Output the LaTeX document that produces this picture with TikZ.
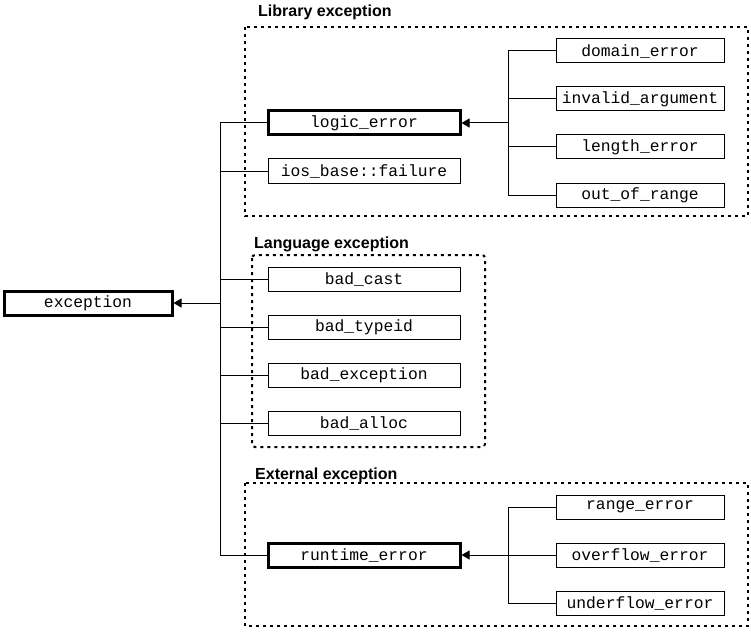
\documentclass[tikz,border=0pt]{standalone}
\usepackage{fontspec}
\setmainfont{Liberation Sans}
\setmonofont{Liberation Mono}
\usetikzlibrary{arrows.meta}
\begin{document}
\begin{tikzpicture}[x=1pt,y=-1pt,
  cls/.style={draw,line width=1pt,rectangle,minimum height=24pt,inner sep=0pt,
    font=\fontsize{16.3}{16}\selectfont\ttfamily},
  wide/.style={cls,minimum width=192pt},
  narrow/.style={cls,minimum width=168pt},
  base/.style={line width=3pt},
  link/.style={line width=1pt},
  inherit/.style={link,-{Triangle[length=8pt,width=9pt]}},
  group/.style={line width=2pt,dash pattern=on 3pt off 4pt},
  grouptitle/.style={anchor=base west,inner sep=0pt,
    font=\fontsize{16}{16}\selectfont\bfseries}]
\useasboundingbox (0,0) rectangle (751,631);

% root
\node[narrow,base] (exc) at (88,303) {exception};

% library exceptions
\node[wide,base] (logic) at (364,123) {logic\_error};
\node[wide] (ios) at (364,171) {ios\_base::failure};
\node[narrow] (dom) at (640,51) {domain\_error};
\node[narrow] (inv) at (640,99) {invalid\_argument};
\node[narrow] (len) at (640,147) {length\_error};
\node[narrow] (oor) at (640,195) {out\_of\_range};

% language exceptions
\node[wide] (cast) at (364,279) {bad\_cast};
\node[wide] (tid) at (364,327) {bad\_typeid};
\node[wide] (bexc) at (364,375) {bad\_exception};
\node[wide] (alloc) at (364,423) {bad\_alloc};

% external exceptions
\node[wide,base] (rt) at (364,555) {runtime\_error};
\node[narrow] (rng) at (640,507) {range\_error};
\node[narrow] (ovf) at (640,555) {overflow\_error};
\node[narrow] (udf) at (640,603) {underflow\_error};

% branch points
\coordinate (trunk) at (220,303);
\coordinate (lsplit) at (508,123);
\coordinate (rsplit) at (508,555);

% hierarchy under exception
\foreach \c in {logic,ios,cast,tid,bexc,alloc,rt}
  \draw[link] (\c.west) -| (trunk);
\draw[inherit] (trunk) -- (exc.east);

% hierarchy under logic_error
\foreach \c in {dom,inv,len,oor}
  \draw[link] (\c.west) -| (lsplit);
\draw[inherit] (lsplit) -- (logic.east);

% hierarchy under runtime_error
\foreach \c in {rng,ovf,udf}
  \draw[link] (\c.west) -| (rsplit);
\draw[inherit] (rsplit) -- (rt.east);

% groups
\draw[group] (245,27) rectangle (748,216);
\node[grouptitle] (libt) at (258,17) {Library exception};
\draw[group,rounded corners=3pt] (252,255) rectangle (485,447);
\node[grouptitle] (lant) at (254,248) {Language exception};
\draw[group] (245,483) rectangle (748,626);
\node[grouptitle] (extt) at (255,479) {External exception};
\end{tikzpicture}
\end{document}
